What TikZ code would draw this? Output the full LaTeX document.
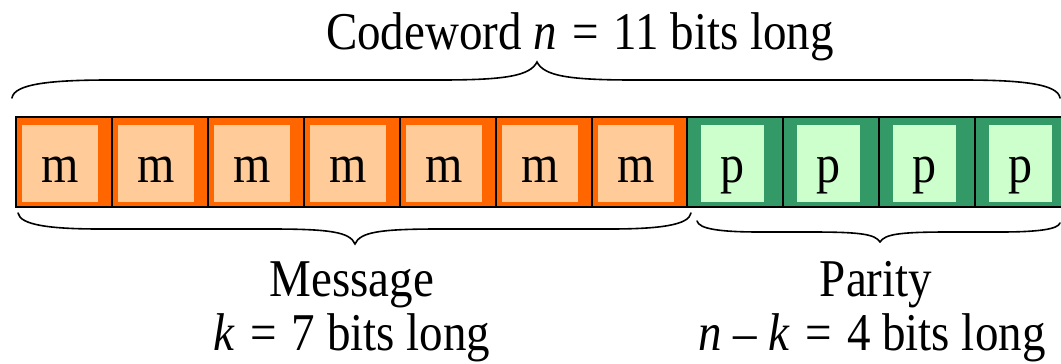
\documentclass[tikz,border=0pt]{standalone}
\usepackage{fontspec}
\setmainfont{Liberation Serif}
\usetikzlibrary{calc}
\definecolor{morange}{HTML}{FF6600}
\definecolor{mlight}{HTML}{FFCC99}
\definecolor{pgreen}{HTML}{339966}
\definecolor{plight}{HTML}{CCFFCC}
\newcommand{\tall}[1]{\scalebox{1}[1.13]{#1}}
\newcommand{\eqs}{\hspace{0.32em}=\hspace{0.32em}}
\tikzset{
  cellbox/.style={draw=black, line width=1.8pt, inner sep=0pt, anchor=north west,
    minimum width=96pt, minimum height=90pt},
  mcell/.style={cellbox, fill=morange},
  pcell/.style={cellbox, fill=pgreen},
  inbox/.style={inner sep=0pt, minimum height=77pt, text height=58pt, text depth=19pt,
    font=\fontsize{48}{52}\selectfont},
  minner/.style={inbox, fill=mlight, minimum width=76pt},
  pinner/.style={inbox, fill=plight, minimum width=63pt},
  lbl/.style={anchor=base, inner sep=0pt, font=\fontsize{47}{52}\selectfont},
  bracepath/.style={line width=1.6pt, line cap=round},
}
\begin{document}
\begin{tikzpicture}[x=1pt,y=-1pt]
\useasboundingbox (0,0) rectangle (1061,364);
% message cells
\foreach \i/\x in {1/15,2/111,3/207,4/303,5/399,6/495,7/591}{
  \node[mcell] (c\i) at (\x,116) {};
  \node[minner] (i\i) at ($(c\i.center)+(-3.8,1.5)$) {\tall{m}};
}
% parity cells
\foreach \i/\x in {8/686,9/782,10/878,11/974}{
  \node[pcell] (c\i) at (\x,116) {};
  \node[pinner] (i\i) at ($(c\i.center)+(-2,1.5)$) {\tall{p}};
}
% labels
\node[lbl] (cw) at (580,49) {\tall{Codeword \textit{n}\eqs 11 bits long}};
\node[lbl] (msg) at (352,296) {\tall{Message}};
\node[lbl] (msgk) at (352,350) {\tall{\textit{k}\eqs 7 bits long}};
\node[lbl] (par) at (876,296) {\tall{Parity}};
\node[lbl] (park) at (872,350) {\tall{\textit{n} – \textit{k}\eqs 4 bits long}};
% braces
\coordinate (tl) at (12,98);
\coordinate (tt) at (537,62);
\coordinate (tr) at (1060,98);
\draw[bracepath] (tl) .. controls (14,84) and (50,80) .. (110,80) -- (440,80)
  .. controls (505,80) and (530,76) .. (tt)
  .. controls (544,76) and (569,80) .. (634,80) -- (962,80)
  .. controls (1022,80) and (1058,84) .. (tr);
\coordinate (ml) at (18,213);
\coordinate (mt) at (355,244);
\coordinate (mr) at (691,213);
\draw[bracepath] (ml) .. controls (20,225) and (50,229) .. (100,229) -- (270,229)
  .. controls (330,229) and (350,232) .. (mt)
  .. controls (360,232) and (380,229) .. (440,229) -- (610,229)
  .. controls (660,229) and (689,225) .. (mr);
\coordinate (pl) at (697,221);
\coordinate (pt) at (880,242);
\coordinate (pr) at (1060,223);
\draw[bracepath] (pl) .. controls (699,229) and (720,232) .. (760,232) -- (810,232)
  .. controls (860,232) and (875,234) .. (pt)
  .. controls (885,234) and (900,232) .. (950,232) -- (1000,232)
  .. controls (1040,232) and (1058,229) .. (pr);
\end{tikzpicture}
\end{document}
